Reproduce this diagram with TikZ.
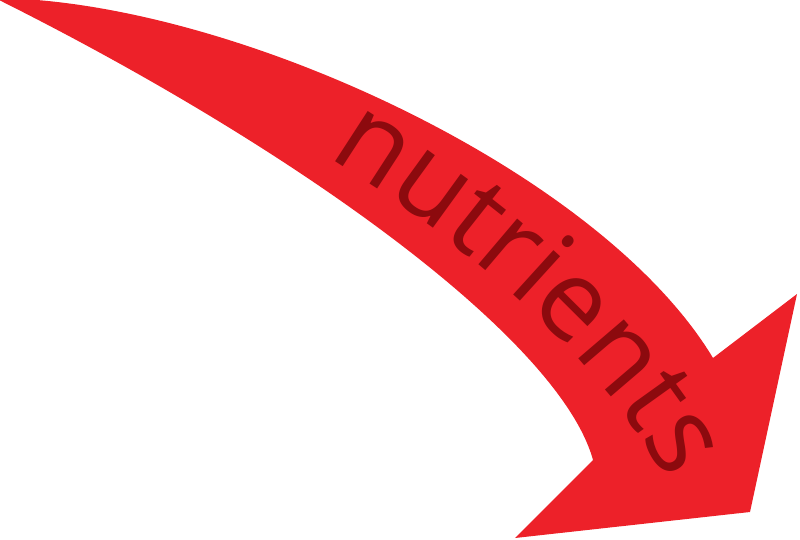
\documentclass[tikz,border=0pt]{standalone}
\usepackage{fontspec}
\newfontfamily\nutfont{Open Sans}
\usetikzlibrary{decorations.text}
\definecolor{arrowred}{RGB}{237,33,41}
\definecolor{txtred}{RGB}{140,10,14}
\tikzset{arrowbody/.style={fill=arrowred,draw=none}}
\begin{document}
\begin{tikzpicture}[x=1pt,y=-1pt]
\useasboundingbox (0,0) rectangle (800,540);
\path[arrowbody] (-5,-2) .. controls (230,0) and (600,170) .. (713,358)
  -- (797,294) -- (750,512) -- (515,538) -- (593,460)
  .. controls (560,340) and (300,150) .. (-5,-2) -- cycle;
\path[decorate,decoration={text along path,text align=center,text color=txtred,
  text={|\nutfont\fontsize{112}{112}\selectfont|nutrients}}]
  (320,152) .. controls (450,230) and (610,360) .. (670,490);
\end{tikzpicture}
\end{document}
